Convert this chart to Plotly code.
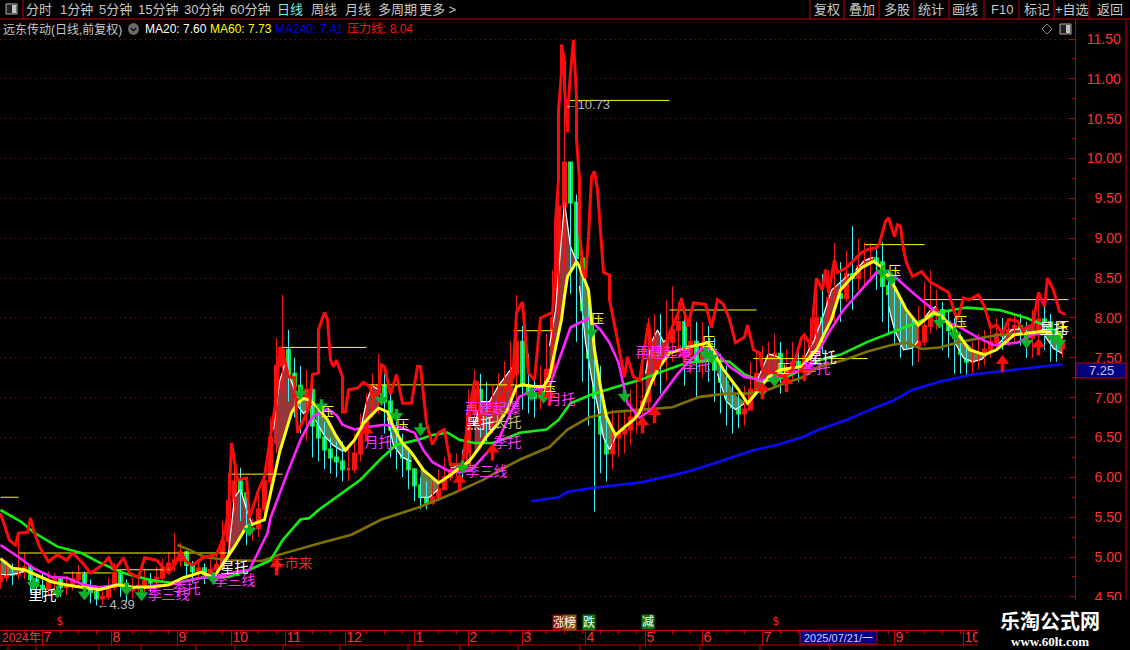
import plotly.graph_objects as go

# ---------- data ----------
bar = list(range(0, 356, 2))
opens = [4.70,4.75,4.83,4.78,4.86,4.87,4.72,4.64,4.60,4.68,
4.72,4.62,4.66,4.72,4.78,4.62,4.56,4.48,4.50,4.62,
4.80,4.66,4.58,4.62,4.64,4.70,4.68,4.74,4.86,4.92,
4.96,5.06,4.90,4.82,4.86,4.78,4.84,4.90,5.20,5.70,
5.95,5.80,5.35,5.36,5.60,5.95,6.50,7.40,7.60,7.30,
7.15,7.00,7.10,6.65,6.50,6.35,6.25,6.20,6.10,6.10,
6.30,6.55,6.80,7.05,7.15,6.95,6.60,6.40,6.25,6.10,
5.90,5.75,5.68,5.75,5.85,6.00,6.08,6.12,6.10,6.80,
7.10,6.85,6.80,6.90,7.05,7.20,7.30,7.70,7.15,7.05,
7.00,7.10,7.35,8.00,9.40,9.95,9.45,8.75,8.10,7.50,
7.00,6.55,6.30,6.50,6.55,6.60,6.75,6.85,6.95,7.45,
7.70,7.55,7.70,7.85,7.95,7.55,7.70,7.45,7.65,7.60,
7.35,7.20,7.00,6.88,6.80,6.85,7.10,7.30,7.30,7.45,
7.55,7.30,7.35,7.45,7.40,7.52,7.70,8.00,7.95,8.25,
8.30,8.25,8.55,8.50,8.65,8.70,8.75,8.70,8.40,8.30,
8.10,7.90,7.80,7.65,7.70,7.90,8.05,8.10,7.95,7.85,
7.75,7.55,7.45,7.50,7.55,7.60,7.70,7.80,7.78,7.85,
7.90,7.85,7.75,7.85,7.98,7.95,7.75,7.62]
closes = [4.75,4.83,4.78,4.86,4.87,4.72,4.64,4.60,4.68,4.72,
4.62,4.66,4.72,4.78,4.62,4.56,4.48,4.50,4.62,4.80,
4.66,4.58,4.62,4.64,4.70,4.68,4.74,4.86,4.92,4.96,
5.06,4.90,4.82,4.86,4.78,4.84,4.90,5.20,5.70,5.95,
5.80,5.35,5.36,5.60,5.95,6.50,7.40,7.60,7.30,7.15,
7.00,7.10,6.65,6.50,6.35,6.25,6.20,6.10,6.10,6.30,
6.55,6.80,7.05,7.15,6.95,6.60,6.40,6.25,6.10,5.90,
5.75,5.68,5.75,5.85,6.00,6.08,6.12,6.10,6.80,7.10,
6.85,6.80,6.90,7.05,7.20,7.30,7.70,7.15,7.05,7.00,
7.10,7.35,8.00,9.40,9.95,9.45,8.75,8.10,7.50,7.00,
6.55,6.30,6.50,6.55,6.60,6.75,6.85,6.95,7.45,7.70,
7.55,7.70,7.85,7.95,7.55,7.70,7.45,7.65,7.60,7.35,
7.20,7.00,6.88,6.80,6.85,7.10,7.30,7.30,7.45,7.55,
7.30,7.35,7.45,7.40,7.52,7.70,8.00,7.95,8.25,8.30,
8.25,8.55,8.50,8.65,8.70,8.75,8.70,8.40,8.30,8.10,
7.90,7.80,7.65,7.70,7.90,8.05,8.10,7.95,7.85,7.75,
7.55,7.45,7.50,7.55,7.60,7.70,7.80,7.78,7.85,7.90,
7.85,7.75,7.85,7.98,7.95,7.75,7.62,7.68]
highs = [4.92,4.95,4.92,5.30,5.05,4.88,4.76,4.80,4.82,4.80,
4.74,4.76,4.82,4.90,4.82,4.72,4.62,4.58,4.74,4.92,
4.84,4.72,4.74,4.78,4.84,4.80,4.88,4.98,5.06,5.30,
5.18,5.08,4.95,4.98,4.92,4.98,5.08,5.45,6.05,6.30,
6.12,5.75,5.48,5.78,6.12,6.75,7.75,8.29,7.85,7.50,
7.40,7.35,7.20,6.85,6.70,6.50,6.45,6.45,6.40,6.55,
6.80,7.05,7.30,7.55,7.30,7.05,6.75,6.55,6.38,6.10,
6.00,5.95,5.95,6.10,6.25,6.30,6.30,6.35,7.10,7.35,
7.30,7.20,7.15,7.30,7.45,7.70,8.29,7.90,7.55,7.30,
7.40,7.80,8.60,10.10,10.73,9.95,9.55,8.85,8.30,7.85,
7.40,6.85,6.85,6.80,6.85,7.10,7.25,7.40,8.00,8.05,
8.05,8.22,8.40,8.20,8.05,8.00,7.95,7.95,7.90,7.75,
7.55,7.40,7.20,7.05,7.15,7.45,7.60,7.65,7.70,7.80,
7.70,7.60,7.70,7.65,7.80,8.00,8.35,8.55,8.60,8.94,
8.70,8.85,9.15,9.00,8.95,8.94,8.90,8.95,8.60,8.45,
8.25,8.05,8.00,8.15,8.45,8.60,8.35,8.20,8.10,8.00,
7.80,7.65,7.70,7.80,7.85,7.95,8.00,8.00,8.00,8.05,
8.05,7.95,8.10,8.30,8.25,8.05,7.85,7.82]
lows = [4.60,4.70,4.65,4.72,4.72,4.55,4.50,4.48,4.52,4.56,
4.50,4.52,4.58,4.62,4.48,4.42,4.39,4.40,4.46,4.58,
4.50,4.44,4.48,4.50,4.56,4.56,4.60,4.70,4.78,4.82,
4.88,4.74,4.68,4.72,4.66,4.70,4.74,4.85,5.12,5.55,
5.45,5.15,5.20,5.25,5.45,5.85,6.30,7.05,6.95,6.75,
6.55,6.45,6.25,6.20,6.10,6.05,6.00,5.95,5.95,6.05,
6.20,6.45,6.75,6.80,6.55,6.25,6.10,6.00,5.85,5.70,
5.60,5.60,5.65,5.70,5.85,5.95,6.00,5.95,6.30,6.75,
6.50,6.45,6.55,6.70,6.85,6.95,6.95,6.85,6.80,6.75,
6.85,7.00,7.30,8.00,8.60,8.30,7.70,7.20,6.65,5.57,
6.05,5.95,6.10,6.25,6.30,6.40,6.55,6.65,6.85,7.15,
7.05,7.20,7.45,7.55,7.15,7.30,7.00,7.25,7.20,6.95,
6.80,6.65,6.55,6.62,6.65,6.85,7.05,7.10,7.20,7.25,
7.05,7.10,7.20,7.20,7.25,7.40,7.55,7.55,7.85,7.90,
7.95,8.20,8.10,8.35,8.40,8.45,8.35,7.95,7.80,7.65,
7.50,7.60,7.40,7.45,7.65,7.80,7.85,7.60,7.50,7.30,
7.30,7.28,7.30,7.35,7.40,7.50,7.60,7.60,7.65,7.70,
7.65,7.50,7.50,7.70,7.60,7.45,7.45,7.50]

pressure_bar = [0,1,3,5,6,9,10,11,13,16,19,22,24,27,30,34,36,38,41,43,46,48,52,56,58,60,62,64,68,72,74,76,77,79,82,83,86,88,91,92,93,94,96,98,99,101,103,104,106,106,108,109,110,111,112,114,114,115,116,119,121,123,124,126,127,128,130,132,134,137,139,140,142,144,146,148,150,154,156,158,159,160,162,166,169,171,171,172,174,176,178,180,184,185,185,186,186,187,187,188,188,189,189,190,191,192,192,193,193,194,195,196,197,198,199,200,201,203,203,205,207,208,209,211,213,216,217,219,221,223,226,227,229,231,235,237,239,241,243,245,248,249,251,253,254,258,261,264,267,268,270,272,274,275,276,278,279,282,284,287,289,292,293,295,296,298,299,300,301,302,304,307,310,313,316,318,319,321,323,326,328,330,332,334,336,339,341,342,344,346,348,349,351,353,355]
pressure = [5.55,5.43,5.21,5.15,5.30,5.31,5.49,5.34,5.13,4.94,5.03,4.96,5.05,4.94,4.80,4.90,4.99,4.84,4.99,4.80,4.74,4.99,4.96,4.80,4.90,5.06,4.94,4.90,5.00,5.03,5.21,5.55,6.43,5.97,5.99,5.49,5.84,6.01,6.81,7.01,7.63,7.60,7.26,7.25,6.56,6.72,6.88,7.29,7.31,7.85,8.07,7.98,7.47,7.39,7.47,7.26,6.82,6.82,7.10,7.12,7.19,7.14,7.01,7.06,7.41,7.39,7.04,7.29,6.93,6.93,7.39,7.39,6.68,6.41,6.56,6.60,6.16,6.16,6.78,7.20,7.19,6.63,6.81,6.93,7.12,7.26,7.39,8.07,8.20,7.31,7.22,8.00,8.07,8.52,9.20,9.74,10.61,11.08,11.43,11.21,10.90,10.33,10.53,11.08,11.49,10.77,10.24,9.74,9.11,8.61,8.50,9.02,9.77,9.84,9.61,9.02,8.57,8.54,8.23,7.85,7.47,7.26,7.51,7.26,7.22,7.94,7.60,7.35,7.60,7.81,8.07,8.25,7.89,8.19,8.17,7.88,8.23,8.17,7.98,7.69,7.76,7.91,7.60,7.56,7.35,7.31,7.26,7.35,7.75,7.79,7.66,8.50,8.35,8.61,8.32,8.73,8.57,8.63,8.71,8.82,8.86,8.88,8.94,9.21,9.26,9.02,9.17,9.15,8.86,8.69,8.52,8.58,8.45,8.38,8.32,8.07,7.98,8.25,8.23,8.29,8.14,7.88,7.91,7.81,7.98,7.96,7.83,7.89,7.91,8.32,8.14,8.50,8.35,8.08,8.04]

ma20_bar = [0,4,8,17,22,28,33,39,44,50,56,61,67,71,78,82,88,90,93,97,99,101,103,106,109,112,115,118,121,126,129,131,134,137,141,146,150,153,156,159,162,166,169,172,174,178,181,183,187,188,189,191,192,193,196,198,200,202,205,208,211,213,217,219,223,230,236,241,246,249,252,256,260,267,272,277,280,283,287,291,294,298,302,306,311,314,319,323,328,332,338,347,352,354]
ma20 = [4.98,4.86,4.84,4.69,4.65,4.62,4.59,4.65,4.62,4.62,4.65,4.74,4.81,4.74,5.13,5.38,5.47,5.80,6.31,6.81,6.93,6.99,6.97,6.87,6.72,6.51,6.34,6.47,6.68,6.87,6.82,6.63,6.43,6.31,6.09,5.93,6.03,6.12,6.19,6.34,6.51,6.68,6.85,7.14,7.16,7.14,7.14,7.26,7.98,8.27,8.52,8.64,8.71,8.64,8.35,7.60,7.14,6.76,6.53,6.63,6.72,6.81,7.19,7.35,7.56,7.64,7.69,7.35,7.10,6.93,7.06,7.26,7.35,7.39,7.60,7.98,8.35,8.48,8.63,8.71,8.63,8.39,8.10,7.91,8.07,8.01,7.81,7.60,7.54,7.60,7.79,7.83,7.81,7.75]

magenta_bar = [0,6,11,17,22,28,33,39,44,56,67,72,78,83,89,90,96,100,104,109,112,114,118,122,128,133,138,141,144,149,153,157,161,166,170,173,178,183,187,190,193,196,200,203,206,209,213,217,221,226,230,234,238,243,248,254,261,267,270,276,281,287,292,298,304,311,316,320,326,331,339,344,349,354]
magenta = [5.15,5.00,4.86,4.75,4.74,4.65,4.62,4.65,4.62,4.65,4.74,4.75,4.81,4.84,5.30,5.49,6.09,6.47,6.76,6.86,6.78,6.66,6.60,6.63,6.66,6.63,6.56,6.34,6.19,6.09,6.06,6.09,6.26,6.47,6.81,7.01,7.10,7.14,7.56,7.88,7.94,7.99,7.85,7.69,7.44,6.93,6.75,6.85,7.06,7.31,7.47,7.63,7.60,7.39,7.26,7.22,7.29,7.35,7.39,7.81,8.10,8.35,8.57,8.52,8.32,8.10,7.94,7.88,7.75,7.66,7.69,7.79,7.83,7.76]

ma60_bar = [0,7,11,19,27,33,41,50,58,67,76,83,90,94,100,103,106,112,120,127,132,139,144,149,153,158,164,170,173,182,186,190,197,204,213,220,229,238,243,248,254,262,267,273,280,289,299,306,313,322,333,342,348,354]
ma60 = [5.59,5.44,5.31,5.13,5.05,4.93,4.80,4.71,4.67,4.74,4.75,4.84,4.96,5.21,5.47,5.49,5.59,5.75,5.97,6.24,6.41,6.47,6.53,6.56,6.47,6.43,6.43,6.51,6.56,6.60,6.72,6.93,7.04,7.12,7.22,7.32,7.44,7.47,7.45,7.29,7.20,7.26,7.35,7.47,7.54,7.70,7.85,7.95,8.07,8.13,8.10,8.00,7.91,7.79]

olive_bar = [59,63,68,76,87,93,107,117,127,140,151,161,168,173,183,189,196,204,214,224,233,242,249,256,262,267,273,281,289,297,302,307,313,320,327,333,344,353]
olive = [5.15,5.09,5.00,4.96,4.95,5.03,5.18,5.28,5.47,5.63,5.80,5.97,6.12,6.22,6.38,6.60,6.75,6.82,6.85,6.88,7.01,7.05,7.05,7.10,7.19,7.25,7.39,7.47,7.58,7.66,7.69,7.61,7.63,7.70,7.75,7.79,7.80,7.79]

ma240_bar = [177,186,189,198,214,229,239,251,259,267,273,282,290,298,304,313,324,336,344,354]
ma240 = [5.70,5.75,5.82,5.87,5.94,6.07,6.19,6.34,6.41,6.50,6.60,6.72,6.85,6.97,7.10,7.20,7.29,7.34,7.37,7.42]

up_fill_bar = [[76,78,80,82,84],[91,93,95,97,99],[120,122,124,126],[158,160,163,166,169,171],[183,185,187,188,190,192],[150,154,157],[215,217,219,221,223],[252,256,260],[268,271,274,277,280,283],[285,288,291],[308,310,312],[332,337,342,345]]
up_fill_fast = [[5.05,5.75,5.85,5.60,5.40],[6.60,7.20,7.45,7.20,7.00],[6.60,6.95,7.15,7.10],[6.65,6.95,6.95,7.15,7.30,7.40],[7.65,8.10,9.00,9.45,8.90,8.71],[6.12,6.15,6.25],[7.30,7.70,7.85,7.70,7.75],[7.20,7.55,7.50],[7.50,7.70,8.00,8.35,8.45,8.55],[8.60,8.72,8.76],[8.00,8.10,8.15],[7.65,7.85,7.87,7.95]]
up_fill_slow = [[5.00,5.13,5.25,5.38,5.42],[6.45,6.31,6.55,6.81,6.93],[6.55,6.68,6.78,6.87],[6.30,6.35,6.58,6.68,6.85,7.08],[7.26,7.60,7.98,8.27,8.58,8.71],[6.03,6.15,6.25],[6.85,7.19,7.35,7.48,7.56],[7.06,7.26,7.35],[7.39,7.55,7.75,7.98,8.35,8.48],[8.52,8.65,8.71],[7.95,8.02,8.07],[7.60,7.77,7.81,7.83]]
down_fill_bar = [[0,4,8],[99,101,104],[105,108,111,114,116],[129,131,134,137],[140,143,146],[193,195,197,199,201,203,205],[239,242,245,248],[296,298,301,304,306],[318,321,324,327,329],[348,351,354]]
down_fill_slow = [[4.98,4.86,4.84],[6.99,6.98,6.95],[6.90,6.77,6.58,6.38,6.37],[6.82,6.63,6.43,6.31],[6.12,5.99,5.93],[8.64,8.50,8.00,7.40,6.95,6.65,6.53],[7.45,7.23,7.03,6.95],[8.50,8.39,8.17,7.98,7.91],[7.85,7.72,7.62,7.55,7.55],[7.83,7.81,7.75]]
down_fill_fast = [[4.78,4.78,4.82],[6.90,6.80,6.90],[6.72,6.52,6.40,6.33,6.35],[6.75,6.40,6.25,6.20],[5.75,5.75,5.85],[8.40,7.70,7.25,6.90,6.50,6.35,6.50],[7.30,6.95,6.85,6.93],[8.15,7.85,7.60,7.62,7.72],[7.70,7.50,7.45,7.48,7.55],[7.78,7.62,7.55]]

level_start = [0,6,21,37,77,93,122,171,188,223,251,288,308]
level_end = [6,76,37,57,94,122,172,184,223,252,289,308,356]
level_price = [5.75,5.05,4.80,4.84,6.04,7.63,7.16,7.84,10.73,8.10,7.49,8.92,8.23]

sell_bar = [11,19,28,42,47,71,83,100,107,127,132,140,154,177,181,197,208,235,237,254,258,294,297,313,318,342,351,353]
sell_price = [4.65,4.55,4.53,4.59,4.52,4.72,5.33,7.05,6.89,6.97,6.77,6.59,6.12,7.03,7.00,7.82,7.01,7.54,7.50,7.08,7.21,8.57,8.48,7.94,7.79,7.69,7.75,7.69]
buy_bar = [92,122,153,164,183,214,218,228,254,262,268,334,346]
buy_price = [4.91,6.59,5.97,6.35,7.04,6.69,6.82,7.55,7.12,7.21,7.35,7.46,7.67]

label_text = ["里托","星托","星托","星托","黑托","月托","月托","季托","季托","季托","季托","季三线","季三线","季三线","再建起爆","再建起爆","长托","牛市来"]
label_bar = [14,78,274,351,160,126,187,232,169,272,62,162,78,56,164,221,169,97]
label_price = [4.50,4.86,7.49,7.85,6.66,6.43,6.97,7.39,6.42,7.35,4.59,6.06,4.69,4.52,6.85,7.55,6.68,4.90]
label_color = ["white","white","white","white","white","#ff33ff","#ff33ff","#ff33ff","#ff33ff","#ff33ff","#ff33ff","#ff33ff","#ff33ff","#ff33ff","#ff33ff","#ff33ff","#c8c070","#ff2020"]
press_bar = [109,134,199,183,236,298,320,261,354]
press_price = [6.81,6.65,7.98,7.12,7.69,8.58,7.94,7.35,7.88]

extreme_text = ["←10.73","←4.39"]
extreme_bar = [188,32]
extreme_price = [10.66,4.39]

# August 2025 sits behind the date box in the reference, so its tick has no label
month_bar = [14,37,59,77,95,115,138,156,174,195,215,234,254,276,298,321]
month_label = ["7","8","9","10","11","12","1","2","3","4","5","6","7","","9","10"]
price_tick = [4.5,5.0,5.5,6.0,6.5,7.0,7.5,8.0,8.5,9.0,9.5,10.0,10.5,11.0,11.5]
price_label = ["\u20074.50","\u20075.00","\u20075.50","\u20076.00","\u20076.50","\u20077.00","\u20077.50","\u20078.00","\u20078.50","\u20079.00","\u20079.50","10.00","10.50","11.00","11.50"]

toolbar_left = ["分时","1分钟","5分钟","15分钟","30分钟","60分钟","日线","周线","月线","多周期","更多 >"]
toolbar_left_x = [39,76,115,158,204,250,290,324,358,397,437]
toolbar_right = ["复权","叠加","多股","统计","画线","F10","标记","+自选","返回"]
toolbar_right_x = [827,862,897,931,965,1002,1037,1072,1110]
toolbar_sep = [810,844,879,914,949,984,1019,1054,1089]
legend_text = ["远东传动(日线,前复权)","MA20: 7.60","MA60: 7.73","MA240: 7.41","压力线: 8.04"]
legend_x = [2,144,209,274,346]
legend_color = ["#c8c8c8","#ffffff","#ffff00","#0000e0","#ff1010"]

# ---------- figure ----------
W, H, L, R, T, B = 1130, 650, 0, 55, 20, 20
PW, PH = W - L - R, H - T - B
def px(x): return (x - L) / PW
def py(y): return 1 - (y - T) / PH
CN = "Liberation Sans, Noto Sans CJK SC"
RED = "#c00000"

fig = go.Figure()

def polygons(xs, tops, bots):
    ox, oy = [], []
    for a, b, c in zip(xs, tops, bots):
        ox += a + a[::-1] + [None]
        oy += b + c[::-1] + [None]
    return ox, oy

def edges(xs, vals):
    ox, oy = [], []
    for a, b in zip(xs, vals):
        ox += a + [None]
        oy += b + [None]
    return ox, oy

# bands
ux, uy = polygons(up_fill_bar, up_fill_fast, up_fill_slow)
fig.add_trace(go.Scatter(x=ux, y=uy, mode="lines", fill="toself", fillcolor="#96383a", line=dict(width=0), hoverinfo="skip"))
dx, dy = polygons(down_fill_bar, down_fill_slow, down_fill_fast)
fig.add_trace(go.Scatter(x=dx, y=dy, mode="lines", fill="toself", fillcolor="#5f7f4e", line=dict(width=0), hoverinfo="skip"))

# white inner line
wx1, wy1 = edges(up_fill_bar, up_fill_fast)
wx2, wy2 = edges(down_fill_bar, down_fill_fast)
fig.add_trace(go.Scatter(x=wx1 + wx2, y=wy1 + wy2, mode="lines", line=dict(color="#ffffff", width=1.2), hoverinfo="skip"))

# wicks
wick_up_x, wick_up_y, wick_dn_x, wick_dn_y = [], [], [], []
for b, o, c, h, l in zip(bar, opens, closes, highs, lows):
    if c >= o:
        wick_up_x += [b, b, None]; wick_up_y += [l, h, None]
    else:
        wick_dn_x += [b, b, None]; wick_dn_y += [l, h, None]
fig.add_trace(go.Scatter(x=wick_up_x, y=wick_up_y, mode="lines", line=dict(color="#f01818", width=1), hoverinfo="skip"))
fig.add_trace(go.Scatter(x=wick_dn_x, y=wick_dn_y, mode="lines", line=dict(color="#40f0f8", width=1), hoverinfo="skip"))

# candles
fig.add_trace(go.Candlestick(x=bar, open=opens, high=[max(o, c) for o, c in zip(opens, closes)],
    low=[min(o, c) for o, c in zip(opens, closes)], close=closes, whiskerwidth=0,
    increasing=dict(line=dict(color="#ff1010", width=2), fillcolor="rgba(0,0,0,0)"),
    decreasing=dict(line=dict(color="#10f010", width=2), fillcolor="rgba(0,0,0,0)"), hoverinfo="skip"))

# support levels
lx, ly = [], []
for s, e, p in zip(level_start, level_end, level_price):
    lx += [s, e, None]; ly += [p, p, None]
fig.add_trace(go.Scatter(x=lx, y=ly, mode="lines", line=dict(color="#ffff00", width=1), hoverinfo="skip"))

# moving averages
fig.add_trace(go.Scatter(x=olive_bar, y=olive, mode="lines", line=dict(color="#7f7000", width=2.6), hoverinfo="skip"))
fig.add_trace(go.Scatter(x=ma240_bar, y=ma240, mode="lines", line=dict(color="#0a0aff", width=2.6), hoverinfo="skip"))
fig.add_trace(go.Scatter(x=ma60_bar, y=ma60, mode="lines", line=dict(color="#10f010", width=2.6), hoverinfo="skip"))
fig.add_trace(go.Scatter(x=magenta_bar, y=magenta, mode="lines", line=dict(color="#ff22ff", width=2.6), hoverinfo="skip"))
fig.add_trace(go.Scatter(x=ma20_bar, y=ma20, mode="lines", line=dict(color="#ffff10", width=3), hoverinfo="skip"))
fig.add_trace(go.Scatter(x=pressure_bar, y=pressure, mode="lines", line=dict(color="#ff0a0a", width=3), hoverinfo="skip"))

# arrows: a triangular head and a short stem
fig.add_trace(go.Scatter(x=sell_bar, y=sell_price, mode="markers",
    marker=dict(symbol="triangle-down", size=12, color="#0fb02a", line=dict(width=0)),
    error_y=dict(type="constant", symmetric=False, value=0.09, valueminus=0, width=0, thickness=3.5, color="#0fb02a"),
    hoverinfo="skip"))
fig.add_trace(go.Scatter(x=buy_bar, y=buy_price, mode="markers",
    marker=dict(symbol="triangle-up", size=12, color="#ff0a0a", line=dict(width=0)),
    error_y=dict(type="constant", symmetric=False, value=0, valueminus=0.14, width=0, thickness=3.5, color="#ff0a0a"),
    hoverinfo="skip"))

# on-chart labels
fig.add_trace(go.Scatter(x=label_bar, y=label_price, mode="text", text=label_text, textposition="middle center",
    textfont=dict(family="Noto Sans CJK SC", size=14, color=label_color), hoverinfo="skip"))
fig.add_trace(go.Scatter(x=press_bar, y=press_price, mode="text", text=["压"] * len(press_bar), textposition="middle center",
    textfont=dict(family="Noto Sans CJK SC", size=13, color="#ffff20"), hoverinfo="skip"))
fig.add_trace(go.Scatter(x=extreme_bar, y=extreme_price, mode="text", text=extreme_text, textposition="middle right",
    textfont=dict(family="Liberation Sans", size=13, color="#b8b8b8"), hoverinfo="skip"))

fig.update_layout(
    width=W, height=H, margin=dict(l=L, r=R, t=T, b=B, autoexpand=False),
    paper_bgcolor="black", plot_bgcolor="black", showlegend=False,
    xaxis=dict(range=[-1 / 6, PW / 3 - 1 / 6], rangeslider=dict(visible=False), showgrid=False, zeroline=False,
               tickmode="array", tickvals=month_bar, ticktext=month_label,
               ticks="outside", ticklen=15, tickwidth=1, tickcolor=RED, showline=True, linecolor=RED, linewidth=1,
               ticklabelposition="outside right", ticklabelstandoff=-6,
               tickfont=dict(family="Liberation Sans", size=14, color="#ff3030"),
               minor=dict(ticks="outside", ticklen=3, tickcolor=RED, dtick=6, tick0=2)),
    yaxis=dict(range=[4.084, 11.739], side="right", tickmode="array", tickvals=price_tick, ticktext=price_label,
               showgrid=True, gridcolor="#8a1212", griddash="1px,4px", gridwidth=1, zeroline=False,
               ticks="inside", ticklen=6, tickcolor=RED, showline=True, linecolor=RED, linewidth=1,
               ticklabelstandoff=8, tickfont=dict(family="Liberation Sans", size=14, color="#ff3030"),
               minor=dict(ticks="inside", ticklen=3, tickcolor=RED, dtick=0.25, tick0=4.25)),
)

shapes, anns = [], []
def rect(x0, y0, x1, y1, fill=None, line=None, w=1, kind="rect"):
    shapes.append(dict(type=kind, xref="paper", yref="paper", x0=px(x0), x1=px(x1), y0=py(y0), y1=py(y1),
                       fillcolor=fill, line=dict(color=line, width=w if line else 0), layer="above"))
def hv(x0, y0, x1, y1, c=RED, w=1):
    shapes.append(dict(type="line", xref="paper", yref="paper", x0=px(x0), x1=px(x1), y0=py(y0), y1=py(y1),
                       line=dict(color=c, width=w), layer="above"))
def txt(x, y, s, color="#c8c8c8", size=13, family=CN, anchor="center", bg=None):
    anns.append(dict(xref="paper", yref="paper", x=px(x), y=py(y), text=s, showarrow=False, xanchor=anchor, yanchor="middle",
                     font=dict(family=family, size=size, color=color), bgcolor=bg, borderpad=0))

# toolbar
hv(0, 19, 1130, 19)
hv(23, 0, 23, 19)
rect(6, 4, 17, 14, fill="#222222", line="#b0b0b0")
rect(12, 5, 16, 13, fill="#c0c0c0")
for s, x in zip(toolbar_left, toolbar_left_x):
    txt(x, 10, s, color="#70f0f0" if s == "日线" else "#c8c8c8")
for s, x in zip(toolbar_right, toolbar_right_x):
    txt(x, 10, s)
for x in toolbar_sep:
    hv(x, 0, x, 19)

# legend row
for s, x, c in zip(legend_text, legend_x, legend_color):
    txt(x, 29, s, color=c, size=12, anchor="left")
rect(128, 23, 139, 35, fill="#6a6a6a", kind="circle")
hv(131, 28, 133.5, 31, c="#111111", w=1.5)
hv(133.5, 31, 136, 28, c="#111111", w=1.5)
for a, b, c, d in [(1047, 24, 1052, 29), (1052, 29, 1047, 34), (1047, 34, 1042, 29), (1042, 29, 1047, 24)]:
    hv(a, b, c, d, c="#8a8a8a")
rect(1060, 24, 1071, 34, fill="#222222", line="#b0b0b0")
rect(1066, 25, 1070, 33, fill="#c0c0c0")

# axis panel
hv(1126, 19, 1126, 600)
rect(1076, 363, 1126, 378, fill="#00007c", line=RED)
txt(1088, 370.5, "7.25", color="#c0c8ff", size=13, family="Liberation Sans", anchor="left")

# date strip
hv(0, 645, 978, 645)
for x in [8, 36, 99, 141, 196, 235, 283, 340, 408, 460, 518, 580, 640, 700, 760, 830]:
    hv(x, 645, x, 650)
txt(1, 637.5, "2024年", color="#ff3030", size=12, anchor="left")
rect(800, 631, 877, 644, fill="#000080", line=RED)
txt(838, 637.5, "2025/07/21/一", color="#c8d0ff", size=11, family=CN)

# event badges
txt(559, 622, "涨", color="white", size=12, bg="#8b1010")
txt(570, 622, "榜", color="white", size=12, bg="#8a5010")
txt(589, 622, "跌", color="white", size=12, bg="#0a7a0a")
txt(648, 622, "减", color="white", size=12, bg="#0a7a0a")
txt(59, 621, "$", color="#ff2020", size=12, family="DejaVu Sans Mono")
txt(775, 621, "$", color="#ff2020", size=12, family="DejaVu Sans Mono")

# watermark
rect(978, 600, 1130, 650, fill="#000000")
txt(1050, 620, "<b>乐淘公式网</b>", color="white", size=20, family="Noto Sans CJK SC")
txt(1050, 641, "<b>www.60lt.com</b>", color="white", size=13, family="Liberation Serif")

fig.update_layout(shapes=shapes, annotations=anns)
fig.write_html("out.html", config={"displayModeBar": False},
               post_script="document.body.style.margin='0';document.documentElement.style.background='black';")
